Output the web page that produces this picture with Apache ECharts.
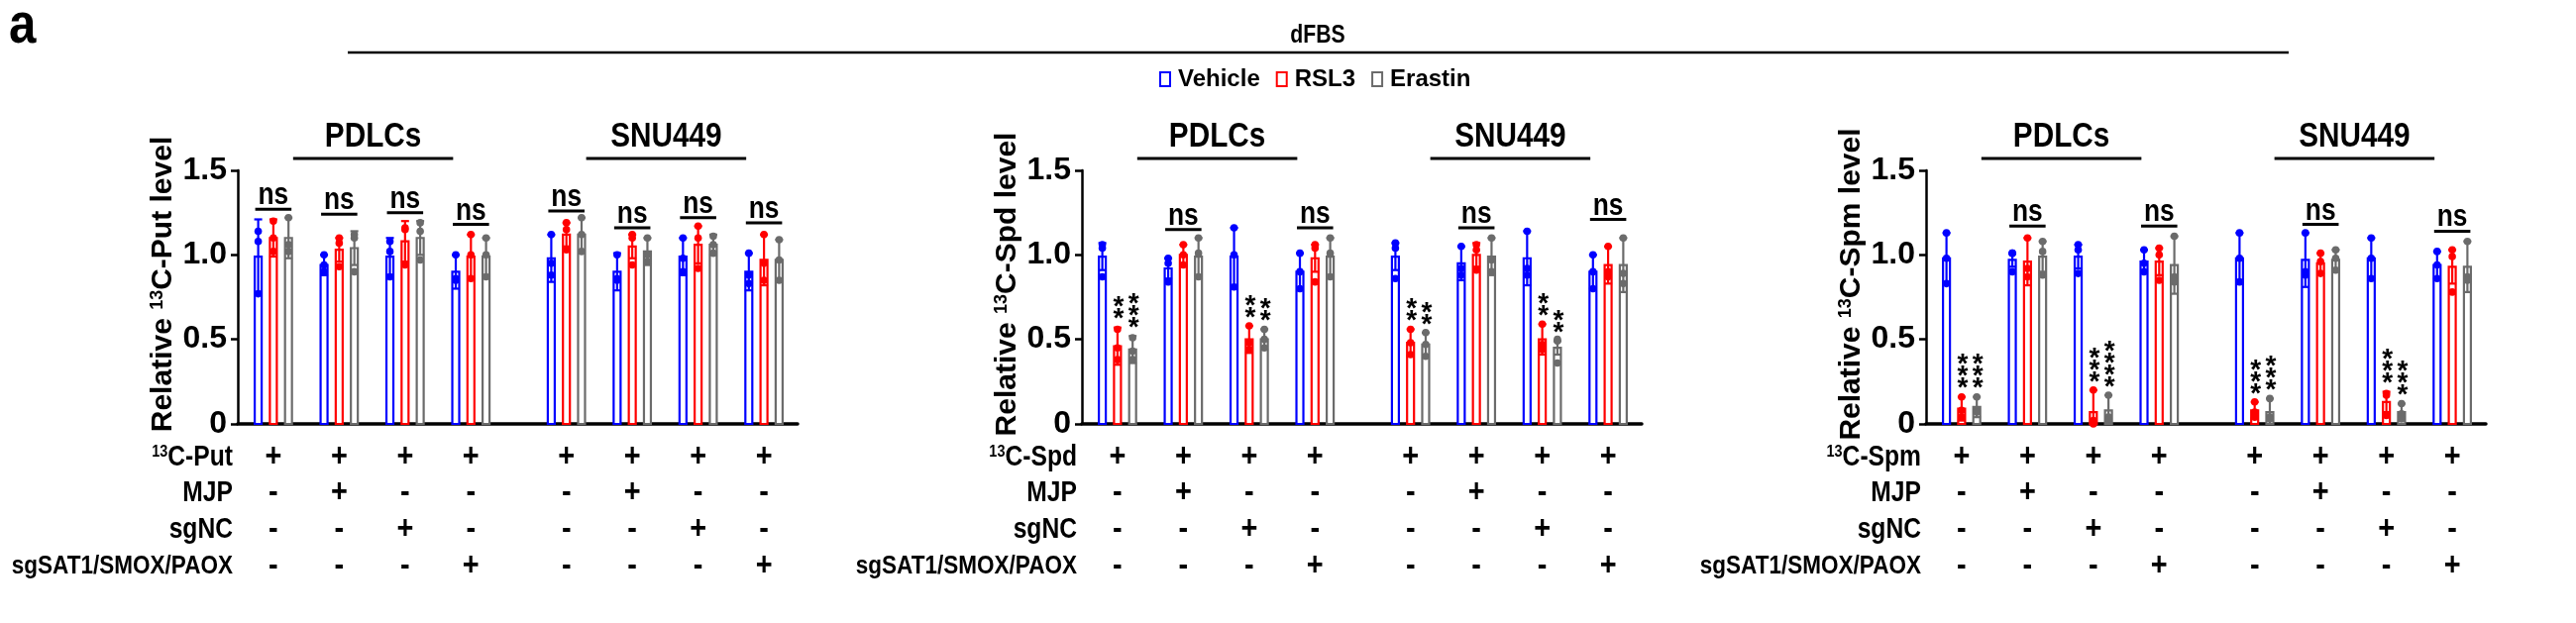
<!DOCTYPE html>
<html><head><meta charset="utf-8">
<script src="https://cdn.jsdelivr.net/npm/echarts@6/dist/echarts.min.js"></script>
<style>html,body{margin:0;padding:0;background:#fff}#c{width:2600px;height:629px}</style>
</head><body><div id="c"></div>
<script>
// ---------------- data ----------------
const treatments = ['Vehicle', 'RSL3', 'Erastin'];
const treatmentColors = ['#0000ff', '#ff0000', '#6b6b6b'];
const blocks = ['PDLCs', 'SNU449'];
const groupsPerBlock = 4;
const yTicks = [0, 0.5, 1.0, 1.5];
const metabolites = ['Put', 'Spd', 'Spm'];

const rowPut   = ['+','+','+','+','+','+','+','+'];
const rowMJP   = ['-','+','-','-','-','+','-','-'];
const rowSgNC  = ['-','-','+','-','-','-','+','-'];
const rowSgSAT = ['-','-','-','+','-','-','-','+'];
const rowNames = ['MJP', 'sgNC', 'sgSAT1/SMOX/PAOX'];

// 13C-Put
const putVehicleMean = [0.99,0.94,0.99,0.90,0.98,0.90,0.99,0.90];
const putVehicleSD   = [0.22,0.06,0.11,0.10,0.14,0.11,0.11,0.11];
const putVehicleDots = [[1.14,1.08,0.77],[1.00,0.94,0.90],[1.08,1.02,0.87],[1.00,0.86,0.85],[1.12,0.95,0.88],[1.00,0.86,0.85],[1.10,0.98,0.90],[1.01,0.88,0.83]];
const putRSL3Mean    = [1.10,1.03,1.08,0.99,1.12,1.05,1.06,0.97];
const putRSL3SD      = [0.11,0.07,0.12,0.13,0.07,0.07,0.11,0.15];
const putRSL3Dots    = [[1.20,1.10,1.02],[1.10,1.07,0.93],[1.16,1.15,0.94],[1.12,1.00,0.86],[1.19,1.15,1.03],[1.12,1.10,0.94],[1.17,1.10,0.92],[1.12,0.95,0.85]];
const putErastinMean = [1.10,1.04,1.10,0.99,1.12,1.02,1.06,0.97];
const putErastinSD   = [0.12,0.10,0.10,0.11,0.10,0.08,0.06,0.12];
const putErastinDots = [[1.22,1.06,1.02],[1.12,1.10,0.90],[1.19,1.14,0.97],[1.10,1.00,0.87],[1.22,1.12,1.02],[1.10,1.00,0.96],[1.11,1.06,1.01],[1.09,0.97,0.85]];
const putNs = [1.27,1.24,1.25,1.18,1.26,1.16,1.22,1.19];
const putRSL3Stars    = ['','','','','','','',''];
const putErastinStars = ['','','','','','','',''];

// 13C-Spd
const spdVehicleMean = [0.99,0.92,0.99,0.90,0.99,0.95,0.98,0.90];
const spdVehicleSD   = [0.08,0.06,0.17,0.11,0.08,0.10,0.16,0.10];
const spdVehicleDots = [[1.06,1.04,0.87],[0.98,0.95,0.84],[1.16,1.00,0.81],[1.01,0.90,0.80],[1.07,1.04,0.86],[1.05,0.92,0.88],[1.14,0.92,0.88],[1.00,0.90,0.80]];
const spdRSL3Mean    = [0.46,1.00,0.50,0.98,0.48,1.00,0.50,0.94];
const spdRSL3SD      = [0.11,0.06,0.08,0.08,0.08,0.07,0.09,0.11];
const spdRSL3Dots    = [[0.56,0.45,0.38],[1.06,1.00,0.94],[0.58,0.48,0.44],[1.06,1.04,0.84],[0.56,0.48,0.41],[1.06,1.03,0.91],[0.59,0.47,0.44],[1.05,0.90,0.87]];
const spdErastinMean = [0.44,0.99,0.50,0.99,0.47,0.99,0.45,0.94];
const spdErastinSD   = [0.08,0.11,0.06,0.11,0.07,0.11,0.04,0.16];
const spdErastinDots = [[0.51,0.43,0.38],[1.10,1.01,0.87],[0.56,0.50,0.45],[1.10,1.01,0.87],[0.54,0.47,0.40],[1.10,0.97,0.90],[0.50,0.49,0.36],[1.10,0.89,0.83]];
const spdNs = [null,1.15,null,1.16,null,1.16,null,1.21];
const spdRSL3Stars    = ['**','','**','','**','','**',''];
const spdErastinStars = ['***','','**','','**','','**',''];

// 13C-Spm
const spmVehicleMean = [0.98,0.97,0.99,0.96,0.98,0.97,0.98,0.94];
const spmVehicleSD   = [0.15,0.04,0.07,0.07,0.15,0.16,0.12,0.08];
const spmVehicleDots = [[1.13,0.98,0.83],[1.01,1.01,0.90],[1.06,1.03,0.89],[1.03,0.95,0.90],[1.13,0.98,0.84],[1.13,0.90,0.88],[1.10,0.98,0.86],[1.02,0.94,0.86]];
const spmRSL3Mean    = [0.09,0.96,0.07,0.96,0.08,0.95,0.13,0.93];
const spmRSL3SD      = [0.07,0.14,0.13,0.08,0.05,0.06,0.06,0.10];
const spmRSL3Dots    = [[0.16,0.08,0.04],[1.10,0.92,0.87],[0.20,0.02,0.00],[1.04,1.00,0.85],[0.13,0.07,0.04],[1.01,0.96,0.89],[0.18,0.17,0.05],[1.03,0.99,0.78]];
const spmErastinMean = [0.10,0.99,0.08,0.94,0.07,0.97,0.07,0.93];
const spmErastinSD   = [0.06,0.09,0.09,0.17,0.08,0.06,0.05,0.15];
const spmErastinDots = [[0.16,0.08,0.07],[1.08,1.02,0.88],[0.17,0.04,0.02],[1.11,0.87,0.84],[0.15,0.04,0.03],[1.03,0.98,0.91],[0.12,0.06,0.03],[1.08,0.87,0.85]];
const spmNs = [null,1.17,null,1.17,null,1.18,null,1.14];
const spmRSL3Stars    = ['***','','***','','***','','***',''];
const spmErastinStars = ['***','','****','','***','','***',''];

// ---------------- layout helpers ----------------
const FONT = 'Liberation Sans, Arial, Helvetica, sans-serif';
const SQ = 0.85; // horizontal squeeze for condensed-looking text
const BLOCK_GAP = 0.45;
function groupPos(i) { return i + (i >= groupsPerBlock ? BLOCK_GAP : 0); }
const X_MIN = -0.54, X_MAX = groupPos(7) + 0.51;
const BAR_OFF = [-0.23, 0, 0.23];

const panels = [
  { name: 'Put', means: [putVehicleMean, putRSL3Mean, putErastinMean], sds: [putVehicleSD, putRSL3SD, putErastinSD],
    dots: [putVehicleDots, putRSL3Dots, putErastinDots], stars: [null, putRSL3Stars, putErastinStars], ns: putNs },
  { name: 'Spd', means: [spdVehicleMean, spdRSL3Mean, spdErastinMean], sds: [spdVehicleSD, spdRSL3SD, spdErastinSD],
    dots: [spdVehicleDots, spdRSL3Dots, spdErastinDots], stars: [null, spdRSL3Stars, spdErastinStars], ns: spdNs },
  { name: 'Spm', means: [spmVehicleMean, spmRSL3Mean, spmErastinMean], sds: [spmVehicleSD, spmRSL3SD, spmErastinSD],
    dots: [spmVehicleDots, spmRSL3Dots, spmErastinDots], stars: [null, spmRSL3Stars, spmErastinStars], ns: spmNs }
];

const supRich = {
  b: { fontSize: 30, fontWeight: 'bold', fontFamily: FONT, color: '#000' },
  s: { fontSize: 18, fontWeight: 'bold', fontFamily: FONT, color: '#000', verticalAlign: 'top' }
};
const rowRich = {
  b: { fontSize: 29, fontWeight: 'bold', fontFamily: FONT, color: '#000' },
  s: { fontSize: 17, fontWeight: 'bold', fontFamily: FONT, color: '#000', verticalAlign: 'top' }
};

const grids = [], xAxes = [], yAxes = [], series = [];
const ROW_DY = [34, 70, 107, 144];

panels.forEach((P, p) => {
  grids.push({ left: 240 + 852 * p, top: 172, width: 565, height: 256 });
  xAxes.push({ gridIndex: p, type: 'value', min: X_MIN, max: X_MAX,
    axisLine: { show: true, onZero: false, lineStyle: { color: '#000', width: 3.5 } },
    axisTick: { show: false }, axisLabel: { show: false }, splitLine: { show: false } });
  yAxes.push({ gridIndex: p, type: 'value', min: yTicks[0], max: yTicks[yTicks.length - 1], interval: 0.5,
    axisLine: { show: true, onZero: false, lineStyle: { color: '#000', width: 2.5 } },
    axisTick: { show: true, length: 7, lineStyle: { color: '#000', width: 2.5 } },
    axisLabel: { margin: 11, fontSize: 32, fontWeight: 'bold', fontFamily: FONT, color: '#000',
      formatter: v => v === 0 ? '0' : v.toFixed(1) },
    splitLine: { show: false },
    name: '{b|Relative }{s|13}{b|C-' + P.name + ' level}', nameLocation: 'middle', nameRotate: 90, nameGap: 60,
    nameTextStyle: { rich: supRich, padding: [0, 0, 0, 26] } });

  // bars with error bars and dots
  treatments.forEach((t, k) => {
    const color = treatmentColors[k];
    const stars = P.stars[k];
    const data = P.means[k].map((m, i) => [groupPos(i) + BAR_OFF[k], m, P.sds[k][i]].concat(P.dots[k][i]));
    series.push({
      type: 'custom', name: t, xAxisIndex: p, yAxisIndex: p, color: color,
      encode: { x: 0, y: 1 }, data: data, z: 3,
      renderItem: function (params, api) {
        const x = api.value(0), m = api.value(1), sd = api.value(2);
        const p0 = api.coord([x, 0]), pm = api.coord([x, m]);
        const pt = api.coord([x, m + sd]), pb = api.coord([x, Math.max(0, m - sd)]);
        const bw = 7, cw = 8;
        const ch = [];
        ch.push({ type: 'rect', shape: { x: pm[0] - bw / 2, y: pm[1], width: bw, height: p0[1] - pm[1] },
          style: { fill: '#fff', stroke: color, lineWidth: 2.2 } });
        ch.push({ type: 'line', shape: { x1: pm[0], y1: pt[1], x2: pm[0], y2: pb[1] }, style: { stroke: color, lineWidth: 2.2 } });
        ch.push({ type: 'line', shape: { x1: pm[0] - cw / 2, y1: pt[1], x2: pm[0] + cw / 2, y2: pt[1] }, style: { stroke: color, lineWidth: 2.2 } });
        ch.push({ type: 'line', shape: { x1: pm[0] - cw / 2, y1: pb[1], x2: pm[0] + cw / 2, y2: pb[1] }, style: { stroke: color, lineWidth: 2.2 } });
        for (let d = 3; d < 6; d++) {
          const pd = api.coord([x, api.value(d)]);
          ch.push({ type: 'circle', shape: { cx: pd[0], cy: pd[1], r: 3.8 }, style: { fill: color } });
        }
        const s = stars ? stars[params.dataIndex] : '';
        if (s) {
          ch.push({ type: 'text', x: pm[0] + 1, y: pt[1] - 2,
            style: { text: s.split('').join('\n'), fill: '#000', fontSize: 28, fontWeight: 'bold', fontFamily: FONT,
              lineHeight: 12, align: 'center', verticalAlign: 'bottom' } });
        }
        return { type: 'group', children: ch };
      }
    });
  });

  // "ns" annotations
  const nsData = [];
  P.ns.forEach((v, i) => { if (v !== null) nsData.push([groupPos(i), v]); });
  series.push({
    type: 'custom', xAxisIndex: p, yAxisIndex: p, encode: { x: 0, y: 1 }, data: nsData, z: 4, silent: true,
    renderItem: function (params, api) {
      const x = api.value(0), v = api.value(1);
      const a = api.coord([x - 0.275, v]), b = api.coord([x + 0.275, v]);
      return { type: 'group', children: [
        { type: 'line', shape: { x1: a[0], y1: a[1], x2: b[0], y2: b[1] }, style: { stroke: '#000', lineWidth: 3 } },
        { type: 'text', x: (a[0] + b[0]) / 2, y: a[1] + 2, scaleX: SQ,
          style: { text: 'ns', fill: '#000', fontSize: 31, fontWeight: 'bold', fontFamily: FONT, align: 'center', verticalAlign: 'bottom' } }
      ] };
    }
  });

  // block titles (PDLCs / SNU449)
  series.push({
    type: 'custom', xAxisIndex: p, yAxisIndex: p, encode: { x: 0 },
    data: blocks.map((b, j) => [groupPos(j * groupsPerBlock), groupPos(j * groupsPerBlock + groupsPerBlock - 1)]),
    z: 4, silent: true,
    renderItem: function (params, api) {
      const a = api.coord([api.value(0) + 0.3, 1.5]), b = api.coord([api.value(1) - 0.27, 1.5]);
      const ly = params.coordSys.y - 12;
      return { type: 'group', children: [
        { type: 'line', shape: { x1: a[0], y1: ly, x2: b[0], y2: ly }, style: { stroke: '#000', lineWidth: 3 } },
        { type: 'text', x: (a[0] + b[0]) / 2, y: ly - 22, scaleX: SQ,
          style: { text: blocks[params.dataIndex], fill: '#000', fontSize: 35, fontWeight: 'bold', fontFamily: FONT, align: 'center', verticalAlign: 'middle' } }
      ] };
    }
  });

  // condition table below the axis
  const rows = [rowPut, rowMJP, rowSgNC, rowSgSAT];
  const labels = ['{s|13}{b|C-' + P.name + '}'].concat(rowNames);
  series.push({
    type: 'custom', xAxisIndex: p, yAxisIndex: p, encode: { x: 0 },
    data: rowPut.map((_, i) => [groupPos(i)]), z: 4, silent: true,
    renderItem: function (params, api) {
      const i = params.dataIndex;
      const base = api.coord([api.value(0), 0]);
      const ch = rows.map((r, k) => ({ type: 'text', x: base[0], y: base[1] + ROW_DY[k], scaleX: SQ,
        style: { text: r[i], fill: '#000', fontSize: 34, fontWeight: 'bold', fontFamily: FONT, align: 'center', verticalAlign: 'middle' } }));
      if (i === 0) {
        const lx = params.coordSys.x - 5;
        labels.forEach((t, k) => {
          const st = k === 0
            ? { text: t, rich: rowRich, align: 'right', verticalAlign: 'middle' }
            : { text: t, fill: '#000', fontSize: k === 3 ? 26.5 : 29, fontWeight: 'bold', fontFamily: FONT, align: 'right', verticalAlign: 'middle' };
          ch.push({ type: 'text', x: lx, y: base[1] + ROW_DY[k], scaleX: SQ, style: st });
        });
      }
      return { type: 'group', children: ch };
    }
  });
});

const option = {
  backgroundColor: '#fff',
  animation: false,
  grid: grids, xAxis: xAxes, yAxis: yAxes, series: series,
  legend: {
    left: 1165, top: 63, itemWidth: 10, itemHeight: 14, itemGap: 16,
    textStyle: { fontSize: 24, fontWeight: 'bold', fontFamily: FONT, color: '#000', padding: [0, 0, 0, 3] },
    data: treatments.map((t, k) => ({ name: t, icon: 'rect',
      itemStyle: { color: '#fff', borderColor: treatmentColors[k], borderWidth: 2 } }))
  },
  graphic: [
    { type: 'text', x: 9, y: 27, scaleX: SQ, style: { text: 'a', fontSize: 58, fontWeight: 'bold', fontFamily: FONT, fill: '#000', align: 'left', verticalAlign: 'middle' } },
    { type: 'text', x: 1330, y: 36, scaleX: SQ, style: { text: 'dFBS', fontSize: 25, fontWeight: 'bold', fontFamily: FONT, fill: '#000', align: 'center', verticalAlign: 'middle' } },
    { type: 'line', shape: { x1: 351, y1: 53, x2: 2310, y2: 53 }, style: { stroke: '#000', lineWidth: 2.5 } }
  ]
};
echarts.init(document.getElementById('c')).setOption(option);
</script></body></html>
